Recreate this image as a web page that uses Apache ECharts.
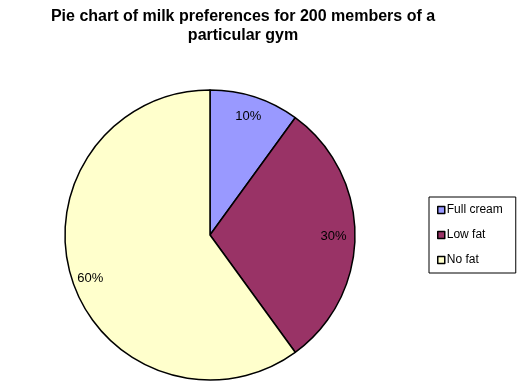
<!DOCTYPE html>
<html>
<head>
<meta charset="utf-8">
<script src="https://cdn.jsdelivr.net/npm/echarts@6/dist/echarts.min.js"></script>
<style>html,body{margin:0;padding:0;background:#fff}#c{width:518px;height:392px}</style>
</head>
<body>
<div id="c"></div>
<script>
var categories = ['Full cream', 'Low fat', 'No fat'];
var values = [20, 60, 120];
var colors = ['#9999FF', '#993366', '#FFFFCC'];
var labelOffsets = [[15, -47], [48, 1], [-48, 20]];

var chart = echarts.init(document.getElementById('c'), null, {renderer: 'canvas'});
var total = values.reduce(function (a, b) { return a + b; }, 0);
chart.setOption({
  animation: false,
  backgroundColor: '#fff',
  title: {
    text: 'Pie chart of milk preferences for 200 members of a\nparticular gym',
    left: 238,
    textAlign: 'center',
    top: 2,
    textStyle: {fontFamily: 'Liberation Sans, Arial, sans-serif', fontSize: 16, fontWeight: 'bold', color: '#000', lineHeight: 19}
  },
  legend: {
    orient: 'vertical',
    left: 429,
    top: 197,
    backgroundColor: '#fff',
    borderColor: '#000',
    borderWidth: 1,
    borderRadius: 0,
    padding: [7, 13, 7, 8],
    itemGap: 13,
    itemWidth: 7,
    itemHeight: 7,
    icon: 'rect',
    itemStyle: {borderColor: '#000', borderWidth: 1.5},
    textStyle: {fontFamily: 'Liberation Sans, Arial, sans-serif', fontSize: 12, color: '#000', padding: [0, 0, 0, -3]},
    data: categories
  },
  series: [{
    type: 'pie',
    center: [210, 235],
    radius: [0, 145],
    startAngle: 90,
    clockwise: true,
    avoidLabelOverlap: false,
    itemStyle: {borderColor: '#000', borderWidth: 1.5},
    label: {
      show: true,
      position: 'inside',
      fontFamily: 'Liberation Sans, Arial, sans-serif',
      fontSize: 13,
      color: '#000',
      formatter: function (p) { return Math.round(p.value / total * 100) + '%'; }
    },
    labelLine: {show: false},
    emphasis: {disabled: true},
    data: categories.map(function (c, i) {
      return {name: c, value: values[i], itemStyle: {color: colors[i]}, label: {offset: labelOffsets[i]}};
    })
  }]
});
</script>
</body>
</html>
